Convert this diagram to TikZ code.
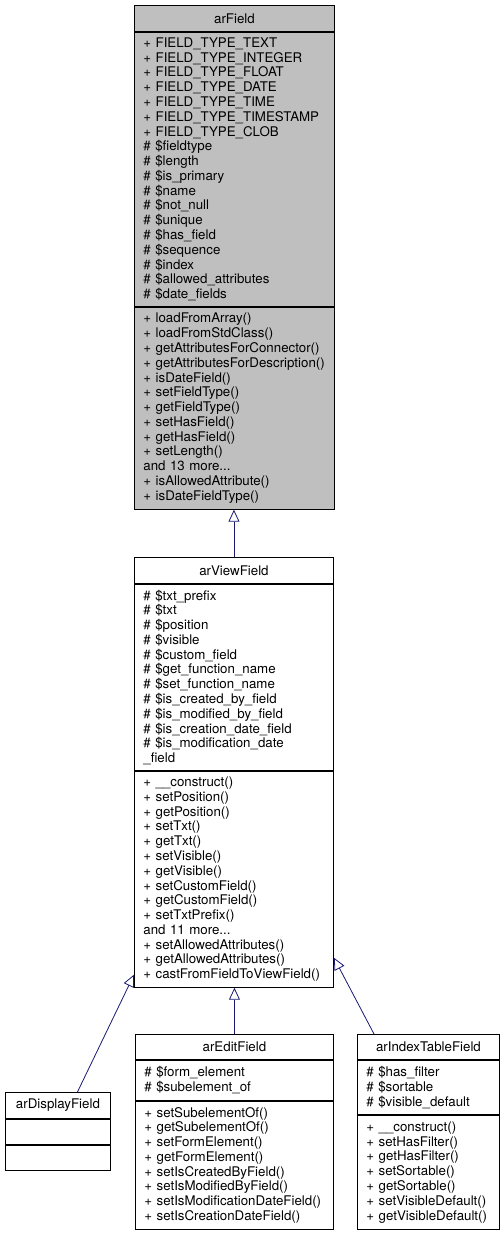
\documentclass[tikz,border=0pt]{standalone}
\usepackage{fontspec}
\setmainfont{TeX Gyre Heros}
\usetikzlibrary{arrows.meta,positioning}
\definecolor{edgeblue}{HTML}{191970}
\newcommand{\dxfont}{\fontsize{13.3}{14.78}\selectfont}
\tikzset{
  head/.style = {draw, line width=0.9pt, anchor=north west, inner sep=0pt,
                 align=center, font=\dxfont},
  sect/.style = {draw, line width=0.9pt, inner xsep=9pt, inner ysep=0pt,
                 align=left, font=\dxfont},
  base/.style = {fill=black!25},
  inh/.style  = {draw=edgeblue, line width=0.8pt,
                 -{Triangle[open, length=12pt, width=11pt]}}
}

\begin{document}
\begin{tikzpicture}[x=1pt, y=-1pt, node distance=0pt]
  \useasboundingbox (0,0) rectangle (503,1233);
  \node[head, base, minimum width=200pt, minimum height=26pt] (field) at (134,5) {arField};
  \node[sect, base, text width=182pt, minimum height=274pt, below=of field] (field-attr)
    {+ FIELD\_TYPE\_TEXT\\+ FIELD\_TYPE\_INTEGER\\+ FIELD\_TYPE\_FLOAT\\+ FIELD\_TYPE\_DATE\\+ FIELD\_TYPE\_TIME\\+ FIELD\_TYPE\_TIMESTAMP\\+ FIELD\_TYPE\_CLOB\\\# \$fieldtype\\\# \$length\\\# \$is\_primary\\\# \$name\\\# \$not\_null\\\# \$unique\\\# \$has\_field\\\# \$sequence\\\# \$index\\\# \$allowed\_attributes\\\# \$date\_fields};
  \node[sect, base, text width=182pt, minimum height=202pt, below=of field-attr] (field-ops)
    {+ loadFromArray()\\+ loadFromStdClass()\\+ getAttributesForConnector()\\+ getAttributesForDescription()\\+ isDateField()\\+ setFieldType()\\+ getFieldType()\\+ setHasField()\\+ getHasField()\\+ setLength()\\and 13 more...\\+ isAllowedAttribute()\\+ isDateFieldType()};

  \node[head, minimum width=199pt, minimum height=26pt] (view) at (134,557) {arViewField};
  \node[sect, text width=181pt, minimum height=186pt, below=of view] (view-attr)
    {\# \$txt\_prefix\\\# \$txt\\\# \$position\\\# \$visible\\\# \$custom\_field\\\# \$get\_function\_name\\\# \$set\_function\_name\\\# \$is\_created\_by\_field\\\# \$is\_modified\_by\_field\\\# \$is\_creation\_date\_field\\\# \$is\_modification\_date\\\_field};
  \node[sect, text width=181pt, minimum height=216pt, below=of view-attr] (view-ops)
    {+ \_\_construct()\\+ setPosition()\\+ getPosition()\\+ setTxt()\\+ getTxt()\\+ setVisible()\\+ getVisible()\\+ setCustomField()\\+ getCustomField()\\+ setTxtPrefix()\\and 11 more...\\+ setAllowedAttributes()\\+ getAllowedAttributes()\\+ castFromFieldToViewField()};

  \node[head, minimum width=105pt, minimum height=26pt] (disp) at (5,1092) {arDisplayField};
  \node[sect, text width=87pt, minimum height=25pt, below=of disp] (disp-attr) {};
  \node[sect, text width=87pt, minimum height=25pt, below=of disp-attr] (disp-ops) {};

  \node[head, minimum width=198pt, minimum height=25pt] (edit) at (135,1034) {arEditField};
  \node[sect, text width=180pt, minimum height=40pt, below=of edit] (edit-attr)
    {\# \$form\_element\\\# \$subelement\_of};
  \node[sect, text width=180pt, minimum height=128pt, below=of edit-attr] (edit-ops)
    {+ setSubelementOf()\\+ getSubelementOf()\\+ setFormElement()\\+ getFormElement()\\+ setIsCreatedByField()\\+ setIsModifiedByField()\\+ setIsModificationDateField()\\+ setIsCreationDateField()};

  \node[head, minimum width=142pt, minimum height=25pt] (idx) at (357,1034) {arIndexTableField};
  \node[sect, text width=124pt, minimum height=54pt, below=of idx] (idx-attr)
    {\# \$has\_filter\\\# \$sortable\\\# \$visible\_default};
  \node[sect, text width=124pt, minimum height=114pt, below=of idx-attr] (idx-ops)
    {+ \_\_construct()\\+ setHasFilter()\\+ getHasFilter()\\+ setSortable()\\+ getSortable()\\+ setVisibleDefault()\\+ getVisibleDefault()};

  \draw[inh] (view.north) -- (view.north |- field-ops.south);
  \draw[inh] ([xshift=19.5pt]disp.north) -- ([yshift=13pt]view-ops.south west);
  \draw[inh] (edit.north) -- (edit.north |- view-ops.south);
  \draw[inh] ([xshift=17pt]idx.north west) -- ([yshift=30pt]view-ops.south east);
\end{tikzpicture}
\end{document}
